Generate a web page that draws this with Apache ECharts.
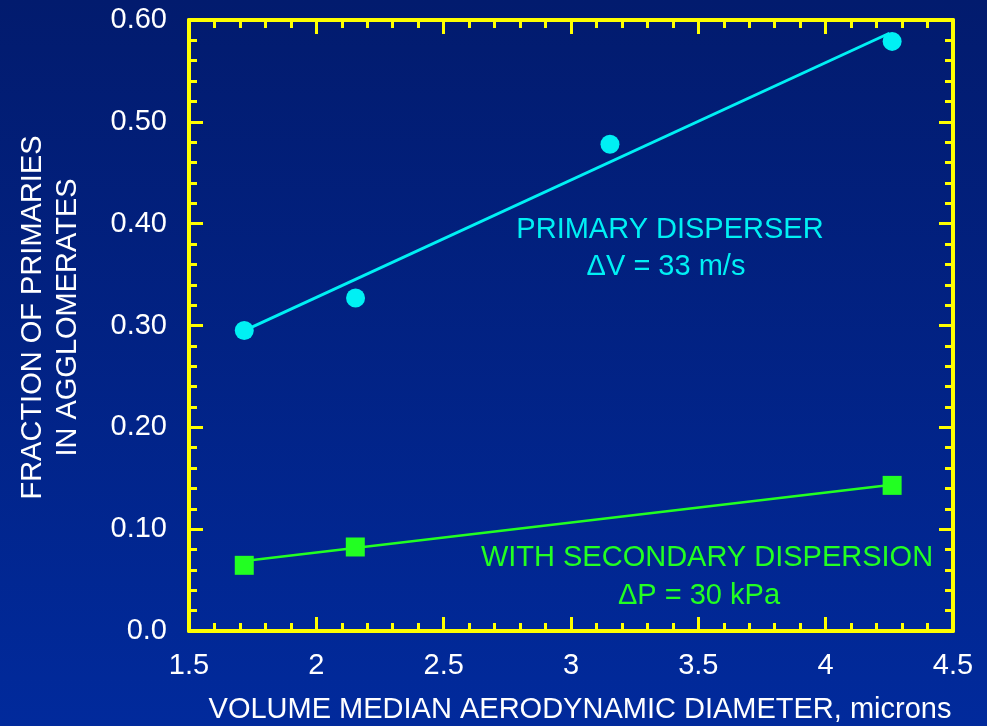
<!DOCTYPE html>
<html>
<head>
<meta charset="utf-8">
<script src="https://cdn.jsdelivr.net/npm/echarts@6/dist/echarts.min.js"></script>
<style>
  html, body { margin: 0; padding: 0; }
  #chart { width: 987px; height: 726px; }
</style>
</head>
<body>
<div id="chart"></div>
<script>
// Measured points: volume median aerodynamic diameter (microns) vs fraction of primaries
const primaryX = [1.717, 2.154, 3.153, 4.261];
const primaryY = [0.295, 0.327, 0.478, 0.579];
const primaryFitX = [1.717, 4.25];
const primaryFitY = [0.295, 0.587];

const secondaryX = [1.717, 2.153, 4.261];
const secondaryY = [0.0645, 0.0825, 0.143];
const secondaryFitX = [1.717, 4.261];
const secondaryFitY = [0.0688, 0.1437];

const yTickValues = [0, 0.1, 0.2, 0.3, 0.4, 0.5, 0.6];
const yTickLabels = ['0.0', '0.10', '0.20', '0.30', '0.40', '0.50', '0.60'];
const xTickValues = [1.5, 2, 2.5, 3, 3.5, 4, 4.5];
const xTickLabels = ['1.5', '2', '2.5', '3', '3.5', '4', '4.5'];

const FONT = '"Liberation Sans", Arial, sans-serif';
const FS = 29;
const YELLOW = '#ffff00';
const CYAN = '#00f0f4';
const GREEN = '#22ff22';

const pairs = (xs, ys) => xs.map((x, i) => [x, ys[i]]);
const labelFor = (vals, labels) => v => {
  const i = vals.findIndex(t => Math.abs(t - v) < 1e-9);
  return i >= 0 ? labels[i] : '';
};

const tickStyle = {
  axisLine: { show: true, onZero: false, lineStyle: { color: YELLOW, width: 4 } },
  axisTick: { show: true, inside: true, length: 14, lineStyle: { color: YELLOW, width: 3 } },
  minorTick: { show: true, splitNumber: 5, length: 8, lineStyle: { color: YELLOW, width: 3 } },
  splitLine: { show: false }
};

const chart = echarts.init(document.getElementById('chart'), null, { renderer: 'canvas' });
chart.setOption({
  backgroundColor: {
    type: 'linear', x: 0, y: 0, x2: 0, y2: 1,
    colorStops: [{ offset: 0, color: '#021b6e' }, { offset: 1, color: '#012a9c' }]
  },
  animation: false,
  grid: { left: 189, right: 34, top: 20, bottom: 95, containLabel: false, outerBoundsMode: 'none' },
  xAxis: [
    Object.assign({
      type: 'value', position: 'bottom', min: 1.5, max: 4.5, interval: 0.5,
      axisLabel: {
        color: '#ffffff', fontFamily: FONT, fontSize: FS, margin: 20,
        formatter: labelFor(xTickValues, xTickLabels)
      },
      name: 'VOLUME MEDIAN AERODYNAMIC DIAMETER, microns',
      nameLocation: 'middle', nameGap: 64,
      nameTextStyle: { color: '#ffffff', fontFamily: FONT, fontSize: FS, padding: [0, 0, 0, 18] }
    }, tickStyle),
    Object.assign({
      type: 'value', position: 'top', min: 1.5, max: 4.5, interval: 0.5,
      axisLabel: { show: false }
    }, tickStyle)
  ],
  yAxis: [
    Object.assign({
      type: 'value', position: 'left', min: 0, max: 0.6, interval: 0.1,
      axisLabel: {
        color: '#ffffff', fontFamily: FONT, fontSize: FS, margin: 22,
        formatter: labelFor(yTickValues, yTickLabels)
      },
      name: 'FRACTION OF PRIMARIES\nIN AGGLOMERATES',
      nameLocation: 'middle', nameGap: 104, nameRotate: 90,
      nameTextStyle: {
        color: '#ffffff', fontFamily: FONT, fontSize: FS, lineHeight: 35,
        align: 'center', padding: [0, 0, 0, 16]
      }
    }, tickStyle),
    Object.assign({
      type: 'value', position: 'right', min: 0, max: 0.6, interval: 0.1,
      axisLabel: { show: false }
    }, tickStyle)
  ],
  series: [
    {
      name: 'Primary fit', type: 'line', data: pairs(primaryFitX, primaryFitY),
      symbol: 'none', lineStyle: { color: CYAN, width: 3 }, z: 2
    },
    {
      name: 'Primary disperser', type: 'scatter', data: pairs(primaryX, primaryY),
      symbol: 'circle', symbolSize: 19, itemStyle: { color: CYAN, opacity: 1 }, z: 3
    },
    {
      name: 'Secondary fit', type: 'line', data: pairs(secondaryFitX, secondaryFitY),
      symbol: 'none', lineStyle: { color: GREEN, width: 2.5 }, z: 2
    },
    {
      name: 'With secondary dispersion', type: 'scatter', data: pairs(secondaryX, secondaryY),
      symbol: 'rect', symbolSize: 19, itemStyle: { color: GREEN, opacity: 1 }, z: 3
    }
  ],
  graphic: [
    { type: 'text', x: 670, y: 230,
      style: { text: 'PRIMARY DISPERSER', fill: CYAN, font: FS + 'px ' + FONT, align: 'center', verticalAlign: 'middle' } },
    { type: 'text', x: 666, y: 267,
      style: { text: 'ΔV = 33 m/s', fill: CYAN, font: FS + 'px ' + FONT, align: 'center', verticalAlign: 'middle' } },
    { type: 'text', x: 707, y: 558,
      style: { text: 'WITH SECONDARY DISPERSION', fill: GREEN, font: FS + 'px ' + FONT, align: 'center', verticalAlign: 'middle' } },
    { type: 'text', x: 699, y: 596,
      style: { text: 'ΔP = 30 kPa', fill: GREEN, font: FS + 'px ' + FONT, align: 'center', verticalAlign: 'middle' } }
  ]
});
</script>
</body>
</html>
